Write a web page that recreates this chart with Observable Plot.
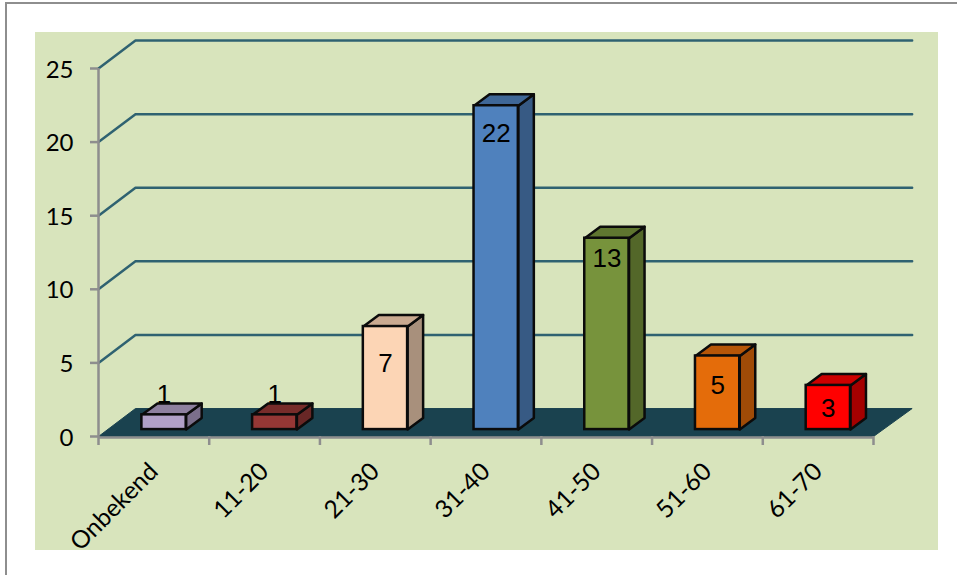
<!DOCTYPE html>
<html>
<head>
<meta charset="utf-8">
<script src="https://cdn.jsdelivr.net/npm/d3@7"></script>
<script src="https://cdn.jsdelivr.net/npm/@observablehq/plot@0.6"></script>
<style>
  html, body { margin: 0; padding: 0; background: #fff; overflow: hidden; }
  #sheet { position: absolute; left: 5px; top: 2px; right: 0; bottom: 0; border-left: 2px solid #8e8e8e; border-top: 2px solid #8e8e8e; }
  #panel { position: absolute; left: 35px; top: 32px; width: 903px; height: 518px; background: #d8e4bc; }
  #chart { position: absolute; left: 0; top: 0; }
  #chart svg { display: block; background: transparent; overflow: visible; }
</style>
</head>
<body>
<div id="sheet"></div>
<div id="panel"></div>
<div id="chart"></div>
<script>
// Data
const categories = ["Onbekend", "11-20", "21-30", "31-40", "41-50", "51-60", "61-70"];
const values = [1, 1, 7, 22, 13, 5, 3];
// Height, in value units, at which each hand-placed data label sits
const labelLevels = [2.85, 2.85, 4.95, 20.55, 12.1, 3.45, 1.9];
const frontColors = ["#b1a0c7", "#953735", "#fcd5b5", "#4f81bd", "#77933c", "#e46c0a", "#ff0000"];
const topColors = ["#8e809f", "#772c2a", "#caaa91", "#3f6797", "#5f7630", "#b65608", "#cc0000"];
const sideColors = ["#7b6f8b", "#682726", "#a8907c", "#375a84", "#536729", "#9f4b07", "#a50000"];
const yTicks = [0, 5, 10, 15, 20, 25];

// Oblique projection, in scale units
const wallDx = 0.334, wallDy = 1.9;    // depth of the whole chart box
const barDx = 0.14, barDy = 0.78;      // depth of one column
const barLeft = 0.392, barWidth = 0.4, baseDy = 0.47;

const n = categories.length;
const bars = categories.map((c, i) => {
  const x1 = i + barLeft, x2 = x1 + barWidth;
  return {c, i, v: values[i], x1, x2, y1: baseDy, y2: baseDy + values[i], label: labelLevels[i]};
});

const side = bars.flatMap(b => [
  [b.x2, b.y1], [b.x2 + barDx, b.y1 + barDy], [b.x2 + barDx, b.y2 + barDy], [b.x2, b.y2]
].map(([x, y]) => ({id: b.c, x, y, fill: sideColors[b.i]})));

const top_ = bars.flatMap(b => [
  [b.x1, b.y2], [b.x1 + barDx, b.y2 + barDy], [b.x2 + barDx, b.y2 + barDy], [b.x2, b.y2]
].map(([x, y]) => ({id: b.c, x, y, fill: topColors[b.i]})));

const floor = [[0, 0], [wallDx, wallDy], [n + wallDx + 0.015, wallDy], [n, 0]].map(([x, y]) => ({x, y}));

const wall = yTicks.filter(t => t > 0).flatMap(t => [
  {t, x: 0, y: t}, {t, x: wallDx, y: t + wallDy}, {t, x: n + wallDx + 0.015, y: t + wallDy}
]);

const grey = "#8e8e8e";
const ink = "#0b0b0b";
const chart = Plot.plot({
  width: 957,
  height: 575,
  marginLeft: 98,
  marginRight: 84,
  marginTop: 68,
  marginBottom: 139,
  x: {domain: [0, n]},
  y: {domain: [0, 25]},
  color: {type: "identity"},
  style: {background: "transparent"},
  marks: [
    Plot.line(wall, {x: "x", y: "y", z: "t", stroke: "#2f6271", strokeWidth: 2.5}),
    Plot.line(floor, {x: "x", y: "y", curve: "linear-closed", fill: "#1a424f", stroke: "#1a424f", strokeWidth: 1}),
    Plot.ruleX([0], {y1: 0, y2: 25, stroke: grey, strokeWidth: 2.5}),
    Plot.ruleY([0], {dy: 1, stroke: grey, strokeWidth: 2.5}),
    Plot.axisY({
      ticks: yTicks, tickSize: 8, label: null, stroke: grey, strokeWidth: 2.5, text: null
    }),
    Plot.axisY({
      ticks: yTicks, tickSize: 0, tickPadding: 25, label: null, dy: 1.5, fill: "#000",
      fontSize: 24, fontFamily: "Lato"
    }),
    Plot.axisX({
      ticks: d3.range(n + 1), tickSize: 9, tickFormat: () => "", label: null,
      stroke: grey, strokeWidth: 2.5
    }),
    Plot.axisX({
      ticks: d3.range(n).map(i => i + 0.5), tickSize: 0, tickPadding: 31,
      tickRotate: -45, tickFormat: t => categories[Math.floor(t)], label: null,
      fill: "#000", fontSize: 24.5, fontFamily: "Lato"
    }),
    Plot.line(side, {x: "x", y: "y", z: "id", curve: "linear-closed", fill: "fill", stroke: ink, strokeWidth: 2.5, strokeLinejoin: "round"}),
    Plot.line(top_, {x: "x", y: "y", z: "id", curve: "linear-closed", fill: "fill", stroke: ink, strokeWidth: 2.5, strokeLinejoin: "round"}),
    Plot.rect(bars, {x1: "x1", x2: "x2", y1: "y1", y2: "y2", fill: (d) => frontColors[d.i], stroke: ink, strokeWidth: 2.5}),
    Plot.text(bars, {
      x: d => (d.x1 + d.x2) / 2, y: "label", text: "v",
      fontSize: 26, fontFamily: "Liberation Sans", fill: "#000"
    })
  ]
});
document.getElementById("chart").append(chart);
</script>
</body>
</html>
